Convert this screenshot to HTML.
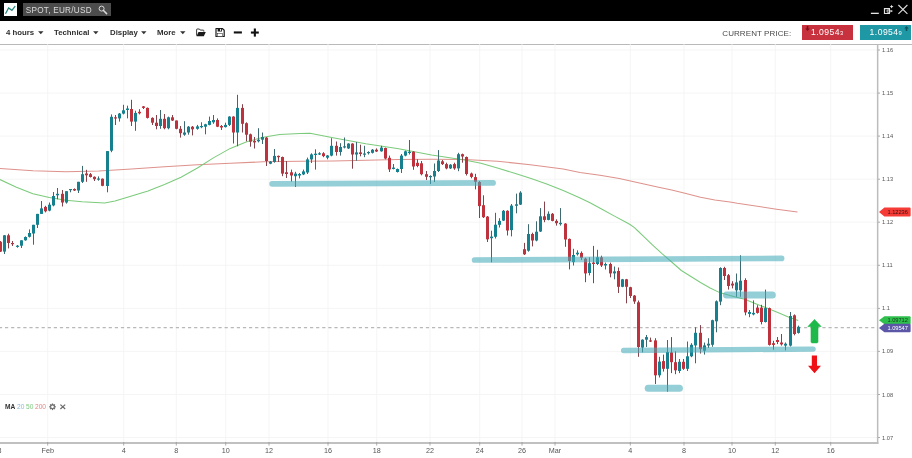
<!DOCTYPE html>
<html><head><meta charset="utf-8"><title>SPOT, EUR/USD</title>
<style>
html,body{margin:0;padding:0;background:#fff;}
body{width:912px;height:458px;overflow:hidden;position:relative;font-family:"Liberation Sans",sans-serif;}
#top{position:absolute;left:0;top:0;width:912px;height:20.5px;background:#000;}
#logo{position:absolute;left:3.8px;top:3px;width:13.1px;height:13px;background:#fdfdfd;}
#search{position:absolute;left:23px;top:3px;width:87.8px;height:13.2px;background:#4c4c4c;}
#search span{position:absolute;left:2.8px;top:2.6px;font-size:8.2px;line-height:10px;color:#dcdcdc;letter-spacing:0.25px;white-space:nowrap;}
#tb{position:absolute;left:0;top:20.5px;width:912px;height:23px;background:#fff;border-bottom:1px solid #b9b9b9;}
.mi{position:absolute;top:7.2px;font-size:7.8px;line-height:10px;font-weight:bold;color:#2e2e2e;white-space:nowrap;}
.ar{position:absolute;top:10.5px;}
#cp{position:absolute;left:722.3px;top:8.2px;font-size:8px;line-height:10px;color:#4a4a4a;letter-spacing:0.08px;white-space:nowrap;}
.pb{position:absolute;top:4.6px;height:14.8px;color:#fff;font-size:8.6px;line-height:14.6px;white-space:nowrap;letter-spacing:0.45px;}
.pb small{font-size:5.8px;letter-spacing:0;}
#chart{position:absolute;left:0;top:44px;}
#chart text{font-family:"Liberation Sans",sans-serif;}
.ax{font-size:5.7px;fill:#555;}
.axb{font-size:7.2px;fill:#555;}
.tg{font-size:5.7px;}
.lg{font-size:6.6px;}
</style></head><body>
<div id="top">
 <div id="logo"><svg style="display:block" width="13" height="13" viewBox="0 0 13 13"><path d="M1.5 10.7 L4.6 4.9 L7.9 7.3 L11.2 3.1" fill="none" stroke="#26877d" stroke-width="1.25" stroke-linejoin="miter"/></svg></div>
 <div id="search"><span>SPOT, EUR/USD</span>
  <svg style="position:absolute;left:75px;top:2.4px" width="10" height="10" viewBox="0 0 10 10"><circle cx="3.6" cy="3.6" r="2.5" fill="none" stroke="#d8d8d8" stroke-width="1"/><path d="M5.5 5.5 L8.6 8.6" stroke="#d8d8d8" stroke-width="1.5" stroke-linecap="round"/></svg>
 </div>
 <svg style="position:absolute;left:868px;top:3px" width="42" height="14" viewBox="868 3 42 14">
  <rect x="870.9" y="12.7" width="7.9" height="1.3" fill="#e4e4e4"/>
  <path d="M884.5 8.6 H889.4 V13.5 H884.5 Z" fill="none" stroke="#e0e0e0" stroke-width="1.2"/>
  <path d="M889.6 10 H887.1 V12.2 H889.6" fill="none" stroke="#e0e0e0" stroke-width="0.9"/>
  <path d="M890.4 9.7 L893 11.1 L890.4 12.5 Z" fill="#e0e0e0"/>
  <path d="M891.6 4.7 L892.2 6 L893.5 6.6 L892.2 7.2 L891.6 8.5 L891 7.2 L889.7 6.6 L891 6 Z" fill="#e8e8e8"/>
  <path d="M898.4 5 L907.4 13.9 M907.4 5 L898.4 13.9" stroke="#dcdcdc" stroke-width="1.1"/>
 </svg>
</div>
<div id="tb">
 <span class="mi" style="left:6px">4 hours</span><svg class="ar" style="left:37.9px" width="6" height="4" viewBox="0 0 6 4"><path d="M0.1 0.2 H5.5 L2.8 3.3 Z" fill="#333"/></svg>
 <span class="mi" style="left:54px">Technical</span><svg class="ar" style="left:93.2px" width="6" height="4" viewBox="0 0 6 4"><path d="M0.1 0.2 H5.5 L2.8 3.3 Z" fill="#333"/></svg>
 <span class="mi" style="left:110px">Display</span><svg class="ar" style="left:141.2px" width="6" height="4" viewBox="0 0 6 4"><path d="M0.1 0.2 H5.5 L2.8 3.3 Z" fill="#333"/></svg>
 <span class="mi" style="left:157px">More</span><svg class="ar" style="left:180.1px" width="6" height="4" viewBox="0 0 6 4"><path d="M0.1 0.2 H5.5 L2.8 3.3 Z" fill="#333"/></svg>
 <svg style="position:absolute;left:195px;top:6.5px" width="66" height="12" viewBox="195 27 66 12">
  <path d="M196.6 35.6 V29.6 Q196.6 29 197.2 29 H199.4 L200.3 30.1 H203.2 Q203.8 30.1 203.8 30.7 V31.6" fill="none" stroke="#222" stroke-width="0.9"/>
  <path d="M196.5 36.3 L198.5 31.9 H205.8 L203.8 36.3 Z" fill="#1a1a1a"/>
  <path d="M216 28.5 H222.3 L224.2 30.2 V36.5 H216 Z" fill="#fff" stroke="#1a1a1a" stroke-width="1.2" stroke-linejoin="round"/>
  <rect x="217.6" y="28.4" width="4.4" height="3.1" fill="#1a1a1a"/>
  <rect x="220.1" y="28.9" width="1" height="2" fill="#fff"/>
  <rect x="217.4" y="33.3" width="5.2" height="3.2" fill="#fff" stroke="#1a1a1a" stroke-width="0.5"/>
  <rect x="233.8" y="31.4" width="8.1" height="2.1" fill="#111"/>
  <rect x="250.9" y="31.5" width="7.9" height="2.1" fill="#111"/>
  <rect x="253.8" y="28.5" width="2.1" height="8.1" fill="#111"/>
 </svg>
 <span id="cp">CURRENT PRICE:</span>
 <div class="pb" style="left:802px;width:51px;background:#c7323e;"><span style="position:absolute;left:9px;top:0">1.0954<small>3</small></span>
  <svg style="position:absolute;left:3.2px;top:1px" width="5" height="5" viewBox="0 0 5 5"><path d="M1.7 0 H3.3 V2.4 H4.8 L2.5 5 L0.2 2.4 H1.7 Z" fill="#7d0f18"/></svg></div>
 <div class="pb" style="left:860px;width:51.2px;background:#1f98a6;"><span style="position:absolute;left:9.6px;top:0">1.0954<small>9</small></span>
  <svg style="position:absolute;left:43.6px;top:1.2px" width="5" height="5" viewBox="0 0 5 5"><path d="M1.7 5 H3.3 V2.6 H4.8 L2.5 0 L0.2 2.6 H1.7 Z" fill="#0d5660"/></svg></div>
</div>
<svg id="chart" width="912" height="414" viewBox="0 44 912 414">
<line x1="47.7" y1="44" x2="47.7" y2="443" stroke="#f2f2f2" stroke-width="0.8"/>
<line x1="123.7" y1="44" x2="123.7" y2="443" stroke="#f2f2f2" stroke-width="0.8"/>
<line x1="176.3" y1="44" x2="176.3" y2="443" stroke="#f2f2f2" stroke-width="0.8"/>
<line x1="225.7" y1="44" x2="225.7" y2="443" stroke="#f2f2f2" stroke-width="0.8"/>
<line x1="269" y1="44" x2="269" y2="443" stroke="#f2f2f2" stroke-width="0.8"/>
<line x1="328" y1="44" x2="328" y2="443" stroke="#f2f2f2" stroke-width="0.8"/>
<line x1="376.7" y1="44" x2="376.7" y2="443" stroke="#f2f2f2" stroke-width="0.8"/>
<line x1="430" y1="44" x2="430" y2="443" stroke="#f2f2f2" stroke-width="0.8"/>
<line x1="479.7" y1="44" x2="479.7" y2="443" stroke="#f2f2f2" stroke-width="0.8"/>
<line x1="522" y1="44" x2="522" y2="443" stroke="#f2f2f2" stroke-width="0.8"/>
<line x1="555" y1="44" x2="555" y2="443" stroke="#f2f2f2" stroke-width="0.8"/>
<line x1="630.3" y1="44" x2="630.3" y2="443" stroke="#f2f2f2" stroke-width="0.8"/>
<line x1="684" y1="44" x2="684" y2="443" stroke="#f2f2f2" stroke-width="0.8"/>
<line x1="732" y1="44" x2="732" y2="443" stroke="#f2f2f2" stroke-width="0.8"/>
<line x1="775.3" y1="44" x2="775.3" y2="443" stroke="#f2f2f2" stroke-width="0.8"/>
<line x1="830.7" y1="44" x2="830.7" y2="443" stroke="#f2f2f2" stroke-width="0.8"/>
<line x1="0" y1="50.0" x2="877" y2="50.0" stroke="#f2f2f2" stroke-width="0.8"/>
<line x1="0" y1="93.1" x2="877" y2="93.1" stroke="#f2f2f2" stroke-width="0.8"/>
<line x1="0" y1="136.1" x2="877" y2="136.1" stroke="#f2f2f2" stroke-width="0.8"/>
<line x1="0" y1="179.2" x2="877" y2="179.2" stroke="#f2f2f2" stroke-width="0.8"/>
<line x1="0" y1="222.2" x2="877" y2="222.2" stroke="#f2f2f2" stroke-width="0.8"/>
<line x1="0" y1="265.3" x2="877" y2="265.3" stroke="#f2f2f2" stroke-width="0.8"/>
<line x1="0" y1="308.4" x2="877" y2="308.4" stroke="#f2f2f2" stroke-width="0.8"/>
<line x1="0" y1="351.4" x2="877" y2="351.4" stroke="#f2f2f2" stroke-width="0.8"/>
<line x1="0" y1="394.5" x2="877" y2="394.5" stroke="#f2f2f2" stroke-width="0.8"/>
<line x1="0" y1="437.5" x2="877" y2="437.5" stroke="#f2f2f2" stroke-width="0.8"/>
<line x1="0" y1="327.6" x2="877" y2="327.6" stroke="#b8b8b8" stroke-width="1.1" stroke-dasharray="3.2 2.9" stroke-dashoffset="1.1"/>
<polyline points="0.0,168.4 33.0,170.7 65.8,171.7 98.7,171.0 131.6,169.0 164.5,166.8 197.4,164.8 230.3,163.2 263.2,161.8 300.0,161.2 333.0,160.9 365.8,160.2 398.7,159.5 431.6,159.2 464.5,159.5 497.4,161.2 530.3,164.8 563.2,169.0 580.0,172.6 600.0,175.3 619.3,178.5 658.6,187.3 671.7,190.0 686.0,193.6 700.5,197.2 714.9,200.1 730.0,202.0 737.3,203.3 776.6,209.2 797.5,211.9" fill="none" stroke="#de928c" stroke-width="1.05" stroke-linejoin="round"/>
<polyline points="0.0,179.6 16.4,187.2 32.9,193.8 49.3,197.5 65.8,200.3 82.2,201.8 104.6,203.0 115.0,201.0 131.6,196.0 148.0,191.0 164.5,184.5 181.0,177.3 197.4,168.0 213.8,157.6 230.3,148.4 246.7,141.8 263.2,137.2 279.6,134.4 300.0,133.6 310.0,133.2 333.0,137.8 365.8,143.8 398.7,148.7 431.6,155.0 464.5,159.9 481.0,163.2 497.4,168.0 513.8,173.0 530.3,178.3 546.7,183.9 563.2,190.5 579.6,197.7 590.0,202.8 602.0,209.2 614.0,215.9 626.0,222.3 630.0,224.5 634.4,227.7 638.5,231.5 642.8,235.7 652.4,244.8 662.0,253.6 671.7,262.0 681.3,270.5 690.9,276.5 700.5,282.5 710.1,288.0 719.7,292.6 730.0,295.6 737.3,297.4 744.6,299.2 757.0,304.2 768.6,308.8 776.6,312.1 788.4,317.0 798.2,320.4" fill="none" stroke="#7ccb7c" stroke-width="1.05" stroke-linejoin="round"/>
<line x1="0.50" y1="241.0" x2="0.50" y2="252.0" stroke="#84434a" stroke-width="1"/>
<rect x="-1.00" y="241.8" width="3" height="9.8" fill="#bd323c"/>
<line x1="4.50" y1="235.0" x2="4.50" y2="254.0" stroke="#3d6971" stroke-width="1"/>
<rect x="3.00" y="235.3" width="3" height="16.3" fill="#17808e"/>
<line x1="8.50" y1="233.7" x2="8.50" y2="248.4" stroke="#84434a" stroke-width="1"/>
<rect x="7.00" y="235.3" width="3" height="7.7" fill="#bd323c"/>
<line x1="12.50" y1="241.0" x2="12.50" y2="246.0" stroke="#84434a" stroke-width="1"/>
<rect x="11.00" y="243.0" width="3" height="1.2" fill="#bd323c"/>
<line x1="17.50" y1="245.0" x2="17.50" y2="247.7" stroke="#3d6971" stroke-width="1"/>
<rect x="16.00" y="245.7" width="3" height="1.2" fill="#17808e"/>
<line x1="21.50" y1="240.3" x2="21.50" y2="248.0" stroke="#3d6971" stroke-width="1"/>
<rect x="20.00" y="240.3" width="3" height="5.4" fill="#17808e"/>
<line x1="25.50" y1="236.4" x2="25.50" y2="240.7" stroke="#3d6971" stroke-width="1"/>
<rect x="24.00" y="237.0" width="3" height="3.3" fill="#17808e"/>
<line x1="29.50" y1="229.4" x2="29.50" y2="237.5" stroke="#3d6971" stroke-width="1"/>
<rect x="28.00" y="233.0" width="3" height="3.8" fill="#17808e"/>
<line x1="33.50" y1="224.8" x2="33.50" y2="244.7" stroke="#3d6971" stroke-width="1"/>
<rect x="32.00" y="224.8" width="3" height="8.7" fill="#17808e"/>
<line x1="37.50" y1="213.9" x2="37.50" y2="228.0" stroke="#3d6971" stroke-width="1"/>
<rect x="36.00" y="213.9" width="3" height="10.9" fill="#17808e"/>
<line x1="41.50" y1="201.0" x2="41.50" y2="213.9" stroke="#3d6971" stroke-width="1"/>
<rect x="40.00" y="208.4" width="3" height="5.5" fill="#17808e"/>
<line x1="45.50" y1="205.8" x2="45.50" y2="212.4" stroke="#84434a" stroke-width="1"/>
<rect x="44.00" y="206.9" width="3" height="4.4" fill="#bd323c"/>
<line x1="49.50" y1="202.5" x2="49.50" y2="211.3" stroke="#3d6971" stroke-width="1"/>
<rect x="48.00" y="204.7" width="3" height="5.9" fill="#17808e"/>
<line x1="53.50" y1="192.0" x2="53.50" y2="206.3" stroke="#3d6971" stroke-width="1"/>
<rect x="52.00" y="196.0" width="3" height="9.4" fill="#17808e"/>
<line x1="57.50" y1="188.0" x2="57.50" y2="199.3" stroke="#3d6971" stroke-width="1"/>
<rect x="56.00" y="193.8" width="3" height="1.5" fill="#17808e"/>
<line x1="62.50" y1="190.0" x2="62.50" y2="206.5" stroke="#84434a" stroke-width="1"/>
<rect x="61.00" y="193.8" width="3" height="8.7" fill="#bd323c"/>
<line x1="66.50" y1="191.2" x2="66.50" y2="203.6" stroke="#3d6971" stroke-width="1"/>
<rect x="65.00" y="191.2" width="3" height="11.3" fill="#17808e"/>
<line x1="70.50" y1="189.0" x2="70.50" y2="192.3" stroke="#3d6971" stroke-width="1"/>
<rect x="69.00" y="189.0" width="3" height="1.2" fill="#17808e"/>
<line x1="74.50" y1="188.4" x2="74.50" y2="191.0" stroke="#84434a" stroke-width="1"/>
<rect x="73.00" y="189.0" width="3" height="1.5" fill="#bd323c"/>
<line x1="78.50" y1="181.8" x2="78.50" y2="193.0" stroke="#3d6971" stroke-width="1"/>
<rect x="77.00" y="181.8" width="3" height="8.7" fill="#17808e"/>
<line x1="82.50" y1="165.9" x2="82.50" y2="183.0" stroke="#3d6971" stroke-width="1"/>
<rect x="81.00" y="174.2" width="3" height="7.6" fill="#17808e"/>
<line x1="86.50" y1="169.8" x2="86.50" y2="181.8" stroke="#84434a" stroke-width="1"/>
<rect x="85.00" y="173.5" width="3" height="1.8" fill="#bd323c"/>
<line x1="90.50" y1="173.0" x2="90.50" y2="177.5" stroke="#84434a" stroke-width="1"/>
<rect x="89.00" y="174.2" width="3" height="2.8" fill="#bd323c"/>
<line x1="94.50" y1="176.4" x2="94.50" y2="181.0" stroke="#84434a" stroke-width="1"/>
<rect x="93.00" y="176.8" width="3" height="2.4" fill="#bd323c"/>
<line x1="98.50" y1="176.4" x2="98.50" y2="180.7" stroke="#3d6971" stroke-width="1"/>
<rect x="97.00" y="178.5" width="3" height="1.2" fill="#17808e"/>
<line x1="102.50" y1="178.5" x2="102.50" y2="186.2" stroke="#84434a" stroke-width="1"/>
<rect x="101.00" y="178.7" width="3" height="7.1" fill="#bd323c"/>
<line x1="107.50" y1="151.1" x2="107.50" y2="192.3" stroke="#3d6971" stroke-width="1"/>
<rect x="106.00" y="151.1" width="3" height="34.9" fill="#17808e"/>
<line x1="111.50" y1="114.4" x2="111.50" y2="152.2" stroke="#3d6971" stroke-width="1"/>
<rect x="110.00" y="116.8" width="3" height="33.9" fill="#17808e"/>
<line x1="115.50" y1="115.0" x2="115.50" y2="125.0" stroke="#84434a" stroke-width="1"/>
<rect x="114.00" y="117.3" width="3" height="1.2" fill="#bd323c"/>
<line x1="119.50" y1="113.0" x2="119.50" y2="121.6" stroke="#3d6971" stroke-width="1"/>
<rect x="118.00" y="113.6" width="3" height="4.8" fill="#17808e"/>
<line x1="123.50" y1="104.8" x2="123.50" y2="114.4" stroke="#3d6971" stroke-width="1"/>
<rect x="122.00" y="110.3" width="3" height="3.3" fill="#17808e"/>
<line x1="127.50" y1="105.7" x2="127.50" y2="118.4" stroke="#3d6971" stroke-width="1"/>
<rect x="126.00" y="108.5" width="3" height="1.5" fill="#17808e"/>
<line x1="131.50" y1="99.8" x2="131.50" y2="126.0" stroke="#84434a" stroke-width="1"/>
<rect x="130.00" y="109.0" width="3" height="12.6" fill="#bd323c"/>
<line x1="135.50" y1="110.7" x2="135.50" y2="130.8" stroke="#3d6971" stroke-width="1"/>
<rect x="134.00" y="112.9" width="3" height="8.7" fill="#17808e"/>
<line x1="139.50" y1="109.2" x2="139.50" y2="114.4" stroke="#84434a" stroke-width="1"/>
<rect x="138.00" y="111.8" width="3" height="1.5" fill="#bd323c"/>
<line x1="143.50" y1="106.0" x2="143.50" y2="109.0" stroke="#84434a" stroke-width="1"/>
<rect x="142.00" y="106.4" width="3" height="1.5" fill="#bd323c"/>
<line x1="147.50" y1="107.5" x2="147.50" y2="118.5" stroke="#84434a" stroke-width="1"/>
<rect x="146.00" y="107.9" width="3" height="10.0" fill="#bd323c"/>
<line x1="152.50" y1="117.3" x2="152.50" y2="125.0" stroke="#84434a" stroke-width="1"/>
<rect x="151.00" y="117.9" width="3" height="4.8" fill="#bd323c"/>
<line x1="156.50" y1="115.0" x2="156.50" y2="129.3" stroke="#84434a" stroke-width="1"/>
<rect x="155.00" y="122.7" width="3" height="3.3" fill="#bd323c"/>
<line x1="160.50" y1="110.0" x2="160.50" y2="128.8" stroke="#3d6971" stroke-width="1"/>
<rect x="159.00" y="118.8" width="3" height="7.2" fill="#17808e"/>
<line x1="164.50" y1="114.0" x2="164.50" y2="129.3" stroke="#84434a" stroke-width="1"/>
<rect x="163.00" y="118.8" width="3" height="9.4" fill="#bd323c"/>
<line x1="168.50" y1="116.6" x2="168.50" y2="129.3" stroke="#3d6971" stroke-width="1"/>
<rect x="167.00" y="117.3" width="3" height="10.9" fill="#17808e"/>
<line x1="172.50" y1="115.0" x2="172.50" y2="121.0" stroke="#84434a" stroke-width="1"/>
<rect x="171.00" y="117.3" width="3" height="3.2" fill="#bd323c"/>
<line x1="176.50" y1="120.5" x2="176.50" y2="129.3" stroke="#84434a" stroke-width="1"/>
<rect x="175.00" y="120.5" width="3" height="8.3" fill="#bd323c"/>
<line x1="180.50" y1="126.0" x2="180.50" y2="137.6" stroke="#84434a" stroke-width="1"/>
<rect x="179.00" y="128.8" width="3" height="4.4" fill="#bd323c"/>
<line x1="184.50" y1="121.2" x2="184.50" y2="135.8" stroke="#3d6971" stroke-width="1"/>
<rect x="183.00" y="132.5" width="3" height="2.2" fill="#17808e"/>
<line x1="188.50" y1="126.0" x2="188.50" y2="134.7" stroke="#3d6971" stroke-width="1"/>
<rect x="187.00" y="126.7" width="3" height="5.8" fill="#17808e"/>
<line x1="192.50" y1="126.0" x2="192.50" y2="135.4" stroke="#84434a" stroke-width="1"/>
<rect x="191.00" y="126.7" width="3" height="2.6" fill="#bd323c"/>
<line x1="197.50" y1="124.9" x2="197.50" y2="129.7" stroke="#3d6971" stroke-width="1"/>
<rect x="196.00" y="126.4" width="3" height="2.4" fill="#17808e"/>
<line x1="201.50" y1="122.3" x2="201.50" y2="128.2" stroke="#3d6971" stroke-width="1"/>
<rect x="200.00" y="126.0" width="3" height="1.2" fill="#17808e"/>
<line x1="205.50" y1="123.8" x2="205.50" y2="134.3" stroke="#3d6971" stroke-width="1"/>
<rect x="204.00" y="124.3" width="3" height="2.4" fill="#17808e"/>
<line x1="209.50" y1="116.6" x2="209.50" y2="125.3" stroke="#3d6971" stroke-width="1"/>
<rect x="208.00" y="121.0" width="3" height="3.9" fill="#17808e"/>
<line x1="213.50" y1="115.0" x2="213.50" y2="123.8" stroke="#3d6971" stroke-width="1"/>
<rect x="212.00" y="120.0" width="3" height="2.3" fill="#17808e"/>
<line x1="217.50" y1="118.4" x2="217.50" y2="127.1" stroke="#84434a" stroke-width="1"/>
<rect x="216.00" y="120.0" width="3" height="6.7" fill="#bd323c"/>
<line x1="221.50" y1="125.0" x2="221.50" y2="130.0" stroke="#84434a" stroke-width="1"/>
<rect x="220.00" y="126.0" width="3" height="1.5" fill="#bd323c"/>
<line x1="225.50" y1="122.7" x2="225.50" y2="127.5" stroke="#3d6971" stroke-width="1"/>
<rect x="224.00" y="124.9" width="3" height="2.2" fill="#17808e"/>
<line x1="229.50" y1="116.2" x2="229.50" y2="126.0" stroke="#3d6971" stroke-width="1"/>
<rect x="228.00" y="116.6" width="3" height="8.3" fill="#17808e"/>
<line x1="233.50" y1="116.2" x2="233.50" y2="143.5" stroke="#84434a" stroke-width="1"/>
<rect x="232.00" y="116.6" width="3" height="15.9" fill="#bd323c"/>
<line x1="237.50" y1="94.8" x2="237.50" y2="146.3" stroke="#3d6971" stroke-width="1"/>
<rect x="236.00" y="107.9" width="3" height="24.6" fill="#17808e"/>
<line x1="242.50" y1="104.2" x2="242.50" y2="132.5" stroke="#84434a" stroke-width="1"/>
<rect x="241.00" y="107.9" width="3" height="15.9" fill="#bd323c"/>
<line x1="246.50" y1="122.3" x2="246.50" y2="141.3" stroke="#84434a" stroke-width="1"/>
<rect x="245.00" y="123.2" width="3" height="11.5" fill="#bd323c"/>
<line x1="250.50" y1="133.6" x2="250.50" y2="146.7" stroke="#84434a" stroke-width="1"/>
<rect x="249.00" y="134.3" width="3" height="7.4" fill="#bd323c"/>
<line x1="254.50" y1="137.0" x2="254.50" y2="148.5" stroke="#84434a" stroke-width="1"/>
<rect x="253.00" y="140.8" width="3" height="1.6" fill="#bd323c"/>
<line x1="258.50" y1="128.2" x2="258.50" y2="142.4" stroke="#3d6971" stroke-width="1"/>
<rect x="257.00" y="139.7" width="3" height="1.6" fill="#17808e"/>
<line x1="262.50" y1="132.5" x2="262.50" y2="144.0" stroke="#3d6971" stroke-width="1"/>
<rect x="261.00" y="137.0" width="3" height="2.7" fill="#17808e"/>
<line x1="266.50" y1="137.0" x2="266.50" y2="166.0" stroke="#84434a" stroke-width="1"/>
<rect x="265.00" y="137.6" width="3" height="23.4" fill="#bd323c"/>
<line x1="270.50" y1="161.0" x2="270.50" y2="164.2" stroke="#3d6971" stroke-width="1"/>
<rect x="269.00" y="161.6" width="3" height="2.1" fill="#17808e"/>
<line x1="274.50" y1="149.0" x2="274.50" y2="162.7" stroke="#3d6971" stroke-width="1"/>
<rect x="273.00" y="155.9" width="3" height="6.1" fill="#17808e"/>
<line x1="278.50" y1="155.5" x2="278.50" y2="162.0" stroke="#84434a" stroke-width="1"/>
<rect x="277.00" y="155.9" width="3" height="1.3" fill="#bd323c"/>
<line x1="282.50" y1="156.6" x2="282.50" y2="176.2" stroke="#84434a" stroke-width="1"/>
<rect x="281.00" y="157.0" width="3" height="16.6" fill="#bd323c"/>
<line x1="286.50" y1="161.0" x2="286.50" y2="178.0" stroke="#84434a" stroke-width="1"/>
<rect x="285.00" y="172.3" width="3" height="1.7" fill="#bd323c"/>
<line x1="291.50" y1="169.6" x2="291.50" y2="181.6" stroke="#84434a" stroke-width="1"/>
<rect x="290.00" y="172.3" width="3" height="3.2" fill="#bd323c"/>
<line x1="295.50" y1="171.8" x2="295.50" y2="187.0" stroke="#3d6971" stroke-width="1"/>
<rect x="294.00" y="173.6" width="3" height="2.6" fill="#17808e"/>
<line x1="299.50" y1="173.0" x2="299.50" y2="178.4" stroke="#3d6971" stroke-width="1"/>
<rect x="298.00" y="174.0" width="3" height="1.5" fill="#17808e"/>
<line x1="303.50" y1="169.6" x2="303.50" y2="175.1" stroke="#3d6971" stroke-width="1"/>
<rect x="302.00" y="171.4" width="3" height="3.0" fill="#17808e"/>
<line x1="307.50" y1="157.6" x2="307.50" y2="174.0" stroke="#3d6971" stroke-width="1"/>
<rect x="306.00" y="159.4" width="3" height="13.1" fill="#17808e"/>
<line x1="311.50" y1="153.3" x2="311.50" y2="163.0" stroke="#3d6971" stroke-width="1"/>
<rect x="310.00" y="154.4" width="3" height="5.0" fill="#17808e"/>
<line x1="315.50" y1="149.3" x2="315.50" y2="169.6" stroke="#3d6971" stroke-width="1"/>
<rect x="314.00" y="153.7" width="3" height="1.3" fill="#17808e"/>
<line x1="319.50" y1="152.2" x2="319.50" y2="155.0" stroke="#3d6971" stroke-width="1"/>
<rect x="318.00" y="153.3" width="3" height="1.2" fill="#17808e"/>
<line x1="323.50" y1="152.2" x2="323.50" y2="157.2" stroke="#84434a" stroke-width="1"/>
<rect x="322.00" y="153.3" width="3" height="2.8" fill="#bd323c"/>
<line x1="327.50" y1="155.0" x2="327.50" y2="159.3" stroke="#3d6971" stroke-width="1"/>
<rect x="326.00" y="155.5" width="3" height="2.2" fill="#17808e"/>
<line x1="331.50" y1="138.2" x2="331.50" y2="156.3" stroke="#3d6971" stroke-width="1"/>
<rect x="330.00" y="145.8" width="3" height="9.8" fill="#17808e"/>
<line x1="336.50" y1="141.5" x2="336.50" y2="155.6" stroke="#84434a" stroke-width="1"/>
<rect x="335.00" y="145.8" width="3" height="6.2" fill="#bd323c"/>
<line x1="340.50" y1="143.2" x2="340.50" y2="155.6" stroke="#3d6971" stroke-width="1"/>
<rect x="339.00" y="147.0" width="3" height="5.0" fill="#17808e"/>
<line x1="344.50" y1="137.5" x2="344.50" y2="148.4" stroke="#3d6971" stroke-width="1"/>
<rect x="343.00" y="146.3" width="3" height="1.2" fill="#17808e"/>
<line x1="348.50" y1="143.2" x2="348.50" y2="149.0" stroke="#3d6971" stroke-width="1"/>
<rect x="347.00" y="143.6" width="3" height="4.8" fill="#17808e"/>
<line x1="352.50" y1="143.2" x2="352.50" y2="168.7" stroke="#84434a" stroke-width="1"/>
<rect x="351.00" y="143.6" width="3" height="10.9" fill="#bd323c"/>
<line x1="356.50" y1="142.0" x2="356.50" y2="160.7" stroke="#3d6971" stroke-width="1"/>
<rect x="355.00" y="152.4" width="3" height="2.1" fill="#17808e"/>
<line x1="360.50" y1="144.7" x2="360.50" y2="156.3" stroke="#84434a" stroke-width="1"/>
<rect x="359.00" y="152.4" width="3" height="1.6" fill="#bd323c"/>
<line x1="364.50" y1="145.8" x2="364.50" y2="157.2" stroke="#3d6971" stroke-width="1"/>
<rect x="363.00" y="153.5" width="3" height="1.2" fill="#17808e"/>
<line x1="368.50" y1="151.3" x2="368.50" y2="154.5" stroke="#3d6971" stroke-width="1"/>
<rect x="367.00" y="152.0" width="3" height="1.2" fill="#17808e"/>
<line x1="372.50" y1="149.0" x2="372.50" y2="153.5" stroke="#3d6971" stroke-width="1"/>
<rect x="371.00" y="149.7" width="3" height="3.1" fill="#17808e"/>
<line x1="376.50" y1="148.4" x2="376.50" y2="152.0" stroke="#84434a" stroke-width="1"/>
<rect x="375.00" y="149.7" width="3" height="1.8" fill="#bd323c"/>
<line x1="381.50" y1="145.8" x2="381.50" y2="151.7" stroke="#3d6971" stroke-width="1"/>
<rect x="380.00" y="147.6" width="3" height="3.7" fill="#17808e"/>
<line x1="385.50" y1="147.6" x2="385.50" y2="159.3" stroke="#84434a" stroke-width="1"/>
<rect x="384.00" y="148.0" width="3" height="10.5" fill="#bd323c"/>
<line x1="389.50" y1="155.6" x2="389.50" y2="172.0" stroke="#84434a" stroke-width="1"/>
<rect x="388.00" y="157.8" width="3" height="11.6" fill="#bd323c"/>
<line x1="393.50" y1="164.0" x2="393.50" y2="169.4" stroke="#3d6971" stroke-width="1"/>
<rect x="392.00" y="167.6" width="3" height="1.4" fill="#17808e"/>
<line x1="397.50" y1="168.5" x2="397.50" y2="172.5" stroke="#3d6971" stroke-width="1"/>
<rect x="396.00" y="169.0" width="3" height="3.0" fill="#17808e"/>
<line x1="401.50" y1="154.0" x2="401.50" y2="173.0" stroke="#3d6971" stroke-width="1"/>
<rect x="400.00" y="155.6" width="3" height="13.4" fill="#17808e"/>
<line x1="405.50" y1="150.6" x2="405.50" y2="156.3" stroke="#3d6971" stroke-width="1"/>
<rect x="404.00" y="151.3" width="3" height="4.3" fill="#17808e"/>
<line x1="409.50" y1="140.0" x2="409.50" y2="154.5" stroke="#3d6971" stroke-width="1"/>
<rect x="408.00" y="151.7" width="3" height="1.3" fill="#17808e"/>
<line x1="413.50" y1="151.3" x2="413.50" y2="169.8" stroke="#84434a" stroke-width="1"/>
<rect x="412.00" y="151.7" width="3" height="14.8" fill="#bd323c"/>
<line x1="417.50" y1="159.3" x2="417.50" y2="167.2" stroke="#84434a" stroke-width="1"/>
<rect x="416.00" y="162.8" width="3" height="3.2" fill="#bd323c"/>
<line x1="421.50" y1="161.0" x2="421.50" y2="175.3" stroke="#84434a" stroke-width="1"/>
<rect x="420.00" y="163.3" width="3" height="10.9" fill="#bd323c"/>
<line x1="426.50" y1="171.0" x2="426.50" y2="180.0" stroke="#84434a" stroke-width="1"/>
<rect x="425.00" y="174.2" width="3" height="2.6" fill="#bd323c"/>
<line x1="430.50" y1="175.3" x2="430.50" y2="184.0" stroke="#3d6971" stroke-width="1"/>
<rect x="429.00" y="176.0" width="3" height="1.2" fill="#17808e"/>
<line x1="434.50" y1="163.5" x2="434.50" y2="182.0" stroke="#3d6971" stroke-width="1"/>
<rect x="433.00" y="171.0" width="3" height="5.5" fill="#17808e"/>
<line x1="438.50" y1="150.1" x2="438.50" y2="172.0" stroke="#3d6971" stroke-width="1"/>
<rect x="437.00" y="160.5" width="3" height="10.5" fill="#17808e"/>
<line x1="442.50" y1="160.0" x2="442.50" y2="165.0" stroke="#84434a" stroke-width="1"/>
<rect x="441.00" y="161.3" width="3" height="2.8" fill="#bd323c"/>
<line x1="446.50" y1="162.7" x2="446.50" y2="169.3" stroke="#84434a" stroke-width="1"/>
<rect x="445.00" y="164.1" width="3" height="4.3" fill="#bd323c"/>
<line x1="450.50" y1="164.1" x2="450.50" y2="169.0" stroke="#3d6971" stroke-width="1"/>
<rect x="449.00" y="164.7" width="3" height="3.7" fill="#17808e"/>
<line x1="454.50" y1="162.7" x2="454.50" y2="169.8" stroke="#84434a" stroke-width="1"/>
<rect x="453.00" y="164.1" width="3" height="4.3" fill="#bd323c"/>
<line x1="458.50" y1="152.8" x2="458.50" y2="171.2" stroke="#3d6971" stroke-width="1"/>
<rect x="457.00" y="154.2" width="3" height="14.2" fill="#17808e"/>
<line x1="462.50" y1="153.6" x2="462.50" y2="162.7" stroke="#84434a" stroke-width="1"/>
<rect x="461.00" y="154.2" width="3" height="2.3" fill="#bd323c"/>
<line x1="466.50" y1="156.5" x2="466.50" y2="175.5" stroke="#84434a" stroke-width="1"/>
<rect x="465.00" y="157.0" width="3" height="17.0" fill="#bd323c"/>
<line x1="471.50" y1="172.6" x2="471.50" y2="178.3" stroke="#84434a" stroke-width="1"/>
<rect x="470.00" y="173.5" width="3" height="3.4" fill="#bd323c"/>
<line x1="475.50" y1="173.8" x2="475.50" y2="189.4" stroke="#84434a" stroke-width="1"/>
<rect x="474.00" y="177.1" width="3" height="4.7" fill="#bd323c"/>
<line x1="479.50" y1="181.1" x2="479.50" y2="218.0" stroke="#84434a" stroke-width="1"/>
<rect x="478.00" y="182.0" width="3" height="24.1" fill="#bd323c"/>
<line x1="483.50" y1="195.3" x2="483.50" y2="218.0" stroke="#84434a" stroke-width="1"/>
<rect x="482.00" y="205.2" width="3" height="12.0" fill="#bd323c"/>
<line x1="487.50" y1="216.0" x2="487.50" y2="242.0" stroke="#84434a" stroke-width="1"/>
<rect x="486.00" y="216.6" width="3" height="22.7" fill="#bd323c"/>
<line x1="491.50" y1="230.7" x2="491.50" y2="262.3" stroke="#3d6971" stroke-width="1"/>
<rect x="490.00" y="236.6" width="3" height="1.6" fill="#17808e"/>
<line x1="495.50" y1="212.8" x2="495.50" y2="238.5" stroke="#3d6971" stroke-width="1"/>
<rect x="494.00" y="224.7" width="3" height="12.1" fill="#17808e"/>
<line x1="499.50" y1="218.2" x2="499.50" y2="227.5" stroke="#3d6971" stroke-width="1"/>
<rect x="498.00" y="220.9" width="3" height="3.9" fill="#17808e"/>
<line x1="503.50" y1="210.0" x2="503.50" y2="221.0" stroke="#3d6971" stroke-width="1"/>
<rect x="502.00" y="210.8" width="3" height="9.8" fill="#17808e"/>
<line x1="507.50" y1="210.3" x2="507.50" y2="235.5" stroke="#84434a" stroke-width="1"/>
<rect x="506.00" y="210.8" width="3" height="19.7" fill="#bd323c"/>
<line x1="511.50" y1="204.0" x2="511.50" y2="236.4" stroke="#3d6971" stroke-width="1"/>
<rect x="510.00" y="205.6" width="3" height="24.5" fill="#17808e"/>
<line x1="516.50" y1="193.6" x2="516.50" y2="213.3" stroke="#3d6971" stroke-width="1"/>
<rect x="515.00" y="204.3" width="3" height="1.5" fill="#17808e"/>
<line x1="520.50" y1="191.2" x2="520.50" y2="205.0" stroke="#3d6971" stroke-width="1"/>
<rect x="519.00" y="192.6" width="3" height="12.0" fill="#17808e"/>
<line x1="524.50" y1="242.9" x2="524.50" y2="255.0" stroke="#84434a" stroke-width="1"/>
<rect x="523.00" y="249.2" width="3" height="5.1" fill="#bd323c"/>
<line x1="528.50" y1="224.2" x2="528.50" y2="251.7" stroke="#3d6971" stroke-width="1"/>
<rect x="527.00" y="234.0" width="3" height="16.7" fill="#17808e"/>
<line x1="532.50" y1="232.7" x2="532.50" y2="246.4" stroke="#84434a" stroke-width="1"/>
<rect x="531.00" y="234.0" width="3" height="6.5" fill="#bd323c"/>
<line x1="536.50" y1="221.3" x2="536.50" y2="241.3" stroke="#3d6971" stroke-width="1"/>
<rect x="535.00" y="231.7" width="3" height="8.8" fill="#17808e"/>
<line x1="540.50" y1="208.1" x2="540.50" y2="232.0" stroke="#3d6971" stroke-width="1"/>
<rect x="539.00" y="216.3" width="3" height="15.2" fill="#17808e"/>
<line x1="544.50" y1="201.6" x2="544.50" y2="222.2" stroke="#84434a" stroke-width="1"/>
<rect x="543.00" y="216.3" width="3" height="3.6" fill="#bd323c"/>
<line x1="548.50" y1="211.4" x2="548.50" y2="220.3" stroke="#3d6971" stroke-width="1"/>
<rect x="547.00" y="213.8" width="3" height="6.1" fill="#17808e"/>
<line x1="552.50" y1="213.0" x2="552.50" y2="221.3" stroke="#84434a" stroke-width="1"/>
<rect x="551.00" y="213.8" width="3" height="7.1" fill="#bd323c"/>
<line x1="556.50" y1="219.3" x2="556.50" y2="225.6" stroke="#84434a" stroke-width="1"/>
<rect x="555.00" y="220.9" width="3" height="2.3" fill="#bd323c"/>
<line x1="560.50" y1="208.1" x2="560.50" y2="225.6" stroke="#3d6971" stroke-width="1"/>
<rect x="559.00" y="222.8" width="3" height="1.4" fill="#17808e"/>
<line x1="565.50" y1="223.2" x2="565.50" y2="246.8" stroke="#84434a" stroke-width="1"/>
<rect x="564.00" y="223.6" width="3" height="15.9" fill="#bd323c"/>
<line x1="569.50" y1="238.5" x2="569.50" y2="269.4" stroke="#84434a" stroke-width="1"/>
<rect x="568.00" y="238.9" width="3" height="22.1" fill="#bd323c"/>
<line x1="573.50" y1="248.8" x2="573.50" y2="265.5" stroke="#3d6971" stroke-width="1"/>
<rect x="572.00" y="255.0" width="3" height="7.1" fill="#17808e"/>
<line x1="577.50" y1="250.3" x2="577.50" y2="255.6" stroke="#3d6971" stroke-width="1"/>
<rect x="576.00" y="252.7" width="3" height="1.6" fill="#17808e"/>
<line x1="581.50" y1="251.4" x2="581.50" y2="260.0" stroke="#84434a" stroke-width="1"/>
<rect x="580.00" y="252.9" width="3" height="4.9" fill="#bd323c"/>
<line x1="585.50" y1="257.7" x2="585.50" y2="282.2" stroke="#84434a" stroke-width="1"/>
<rect x="584.00" y="258.7" width="3" height="14.7" fill="#bd323c"/>
<line x1="589.50" y1="257.3" x2="589.50" y2="275.4" stroke="#3d6971" stroke-width="1"/>
<rect x="588.00" y="263.2" width="3" height="9.8" fill="#17808e"/>
<line x1="593.50" y1="245.9" x2="593.50" y2="283.2" stroke="#84434a" stroke-width="1"/>
<rect x="592.00" y="262.6" width="3" height="1.4" fill="#bd323c"/>
<line x1="597.50" y1="249.8" x2="597.50" y2="265.0" stroke="#3d6971" stroke-width="1"/>
<rect x="596.00" y="257.3" width="3" height="6.7" fill="#17808e"/>
<line x1="601.50" y1="255.7" x2="601.50" y2="267.0" stroke="#84434a" stroke-width="1"/>
<rect x="600.00" y="257.3" width="3" height="8.2" fill="#bd323c"/>
<line x1="605.50" y1="262.6" x2="605.50" y2="269.5" stroke="#3d6971" stroke-width="1"/>
<rect x="604.00" y="264.0" width="3" height="1.5" fill="#17808e"/>
<line x1="610.50" y1="262.6" x2="610.50" y2="277.3" stroke="#84434a" stroke-width="1"/>
<rect x="609.00" y="264.0" width="3" height="9.4" fill="#bd323c"/>
<line x1="614.50" y1="266.5" x2="614.50" y2="279.3" stroke="#3d6971" stroke-width="1"/>
<rect x="613.00" y="271.4" width="3" height="2.0" fill="#17808e"/>
<line x1="618.50" y1="267.5" x2="618.50" y2="293.0" stroke="#84434a" stroke-width="1"/>
<rect x="617.00" y="271.0" width="3" height="15.8" fill="#bd323c"/>
<line x1="622.50" y1="278.9" x2="622.50" y2="287.2" stroke="#3d6971" stroke-width="1"/>
<rect x="621.00" y="279.3" width="3" height="7.5" fill="#17808e"/>
<line x1="626.50" y1="278.9" x2="626.50" y2="303.3" stroke="#84434a" stroke-width="1"/>
<rect x="625.00" y="279.3" width="3" height="7.5" fill="#bd323c"/>
<line x1="630.50" y1="286.8" x2="630.50" y2="298.0" stroke="#84434a" stroke-width="1"/>
<rect x="629.00" y="287.2" width="3" height="8.8" fill="#bd323c"/>
<line x1="634.50" y1="295.0" x2="634.50" y2="303.9" stroke="#84434a" stroke-width="1"/>
<rect x="633.00" y="295.6" width="3" height="5.9" fill="#bd323c"/>
<line x1="638.50" y1="300.5" x2="638.50" y2="356.8" stroke="#84434a" stroke-width="1"/>
<rect x="637.00" y="302.3" width="3" height="44.7" fill="#bd323c"/>
<line x1="642.50" y1="339.3" x2="642.50" y2="352.4" stroke="#3d6971" stroke-width="1"/>
<rect x="641.00" y="339.7" width="3" height="7.9" fill="#17808e"/>
<line x1="646.50" y1="335.0" x2="646.50" y2="347.0" stroke="#3d6971" stroke-width="1"/>
<rect x="645.00" y="337.1" width="3" height="2.6" fill="#17808e"/>
<line x1="650.50" y1="337.6" x2="650.50" y2="342.0" stroke="#84434a" stroke-width="1"/>
<rect x="649.00" y="340.4" width="3" height="1.2" fill="#bd323c"/>
<line x1="655.50" y1="338.2" x2="655.50" y2="384.0" stroke="#84434a" stroke-width="1"/>
<rect x="654.00" y="340.4" width="3" height="34.9" fill="#bd323c"/>
<line x1="659.50" y1="356.8" x2="659.50" y2="377.5" stroke="#3d6971" stroke-width="1"/>
<rect x="658.00" y="361.6" width="3" height="13.7" fill="#17808e"/>
<line x1="663.50" y1="354.6" x2="663.50" y2="371.6" stroke="#84434a" stroke-width="1"/>
<rect x="662.00" y="361.1" width="3" height="7.7" fill="#bd323c"/>
<line x1="667.50" y1="340.0" x2="667.50" y2="391.7" stroke="#3d6971" stroke-width="1"/>
<rect x="666.00" y="352.0" width="3" height="16.8" fill="#17808e"/>
<line x1="671.50" y1="337.1" x2="671.50" y2="373.1" stroke="#84434a" stroke-width="1"/>
<rect x="670.00" y="352.4" width="3" height="9.8" fill="#bd323c"/>
<line x1="675.50" y1="351.3" x2="675.50" y2="374.2" stroke="#84434a" stroke-width="1"/>
<rect x="674.00" y="362.2" width="3" height="8.1" fill="#bd323c"/>
<line x1="679.50" y1="359.0" x2="679.50" y2="373.1" stroke="#3d6971" stroke-width="1"/>
<rect x="678.00" y="361.8" width="3" height="9.2" fill="#17808e"/>
<line x1="683.50" y1="359.0" x2="683.50" y2="369.9" stroke="#84434a" stroke-width="1"/>
<rect x="682.00" y="361.8" width="3" height="7.0" fill="#bd323c"/>
<line x1="687.50" y1="341.5" x2="687.50" y2="371.0" stroke="#3d6971" stroke-width="1"/>
<rect x="686.00" y="356.3" width="3" height="12.5" fill="#17808e"/>
<line x1="691.50" y1="343.2" x2="691.50" y2="357.2" stroke="#3d6971" stroke-width="1"/>
<rect x="690.00" y="344.8" width="3" height="11.5" fill="#17808e"/>
<line x1="695.50" y1="327.3" x2="695.50" y2="363.3" stroke="#3d6971" stroke-width="1"/>
<rect x="694.00" y="332.8" width="3" height="12.6" fill="#17808e"/>
<line x1="700.50" y1="325.1" x2="700.50" y2="353.5" stroke="#84434a" stroke-width="1"/>
<rect x="699.00" y="332.8" width="3" height="16.3" fill="#bd323c"/>
<line x1="704.50" y1="342.6" x2="704.50" y2="354.6" stroke="#3d6971" stroke-width="1"/>
<rect x="703.00" y="345.4" width="3" height="5.3" fill="#17808e"/>
<line x1="708.50" y1="338.2" x2="708.50" y2="348.0" stroke="#3d6971" stroke-width="1"/>
<rect x="707.00" y="343.7" width="3" height="1.8" fill="#17808e"/>
<line x1="712.50" y1="319.7" x2="712.50" y2="346.8" stroke="#3d6971" stroke-width="1"/>
<rect x="711.00" y="320.2" width="3" height="24.6" fill="#17808e"/>
<line x1="716.50" y1="300.4" x2="716.50" y2="332.3" stroke="#3d6971" stroke-width="1"/>
<rect x="715.00" y="301.3" width="3" height="20.0" fill="#17808e"/>
<line x1="720.50" y1="267.3" x2="720.50" y2="305.2" stroke="#3d6971" stroke-width="1"/>
<rect x="719.00" y="268.0" width="3" height="33.6" fill="#17808e"/>
<line x1="724.50" y1="266.8" x2="724.50" y2="280.0" stroke="#84434a" stroke-width="1"/>
<rect x="723.00" y="268.0" width="3" height="8.0" fill="#bd323c"/>
<line x1="728.50" y1="274.0" x2="728.50" y2="289.6" stroke="#84434a" stroke-width="1"/>
<rect x="727.00" y="275.2" width="3" height="10.8" fill="#bd323c"/>
<line x1="732.50" y1="281.2" x2="732.50" y2="288.4" stroke="#84434a" stroke-width="1"/>
<rect x="731.00" y="283.6" width="3" height="1.9" fill="#bd323c"/>
<line x1="736.50" y1="273.5" x2="736.50" y2="296.8" stroke="#3d6971" stroke-width="1"/>
<rect x="735.00" y="282.4" width="3" height="7.9" fill="#17808e"/>
<line x1="740.50" y1="255.3" x2="740.50" y2="296.8" stroke="#3d6971" stroke-width="1"/>
<rect x="739.00" y="280.7" width="3" height="9.6" fill="#17808e"/>
<line x1="745.50" y1="278.3" x2="745.50" y2="315.3" stroke="#84434a" stroke-width="1"/>
<rect x="744.00" y="280.0" width="3" height="32.4" fill="#bd323c"/>
<line x1="749.50" y1="310.0" x2="749.50" y2="317.2" stroke="#3d6971" stroke-width="1"/>
<rect x="748.00" y="312.0" width="3" height="1.9" fill="#17808e"/>
<line x1="753.50" y1="300.4" x2="753.50" y2="315.3" stroke="#3d6971" stroke-width="1"/>
<rect x="752.00" y="312.9" width="3" height="1.5" fill="#17808e"/>
<line x1="757.50" y1="305.2" x2="757.50" y2="313.6" stroke="#84434a" stroke-width="1"/>
<rect x="756.00" y="307.6" width="3" height="5.3" fill="#bd323c"/>
<line x1="761.50" y1="304.8" x2="761.50" y2="324.4" stroke="#84434a" stroke-width="1"/>
<rect x="760.00" y="307.6" width="3" height="14.4" fill="#bd323c"/>
<line x1="765.50" y1="289.6" x2="765.50" y2="322.5" stroke="#3d6971" stroke-width="1"/>
<rect x="764.00" y="308.1" width="3" height="13.9" fill="#17808e"/>
<line x1="769.50" y1="307.6" x2="769.50" y2="345.6" stroke="#84434a" stroke-width="1"/>
<rect x="768.00" y="308.1" width="3" height="36.8" fill="#bd323c"/>
<line x1="773.50" y1="340.8" x2="773.50" y2="349.7" stroke="#84434a" stroke-width="1"/>
<rect x="772.00" y="343.2" width="3" height="1.7" fill="#bd323c"/>
<line x1="777.50" y1="337.0" x2="777.50" y2="344.1" stroke="#84434a" stroke-width="1"/>
<rect x="776.00" y="340.0" width="3" height="2.0" fill="#bd323c"/>
<line x1="781.50" y1="334.0" x2="781.50" y2="345.6" stroke="#84434a" stroke-width="1"/>
<rect x="780.00" y="342.5" width="3" height="1.9" fill="#bd323c"/>
<line x1="785.50" y1="342.5" x2="785.50" y2="350.4" stroke="#3d6971" stroke-width="1"/>
<rect x="784.00" y="343.7" width="3" height="1.9" fill="#17808e"/>
<line x1="790.50" y1="312.0" x2="790.50" y2="346.5" stroke="#3d6971" stroke-width="1"/>
<rect x="789.00" y="316.0" width="3" height="29.6" fill="#17808e"/>
<line x1="794.50" y1="314.4" x2="794.50" y2="335.3" stroke="#84434a" stroke-width="1"/>
<rect x="793.00" y="315.3" width="3" height="18.7" fill="#bd323c"/>
<line x1="798.50" y1="325.6" x2="798.50" y2="333.6" stroke="#3d6971" stroke-width="1"/>
<rect x="797.00" y="326.8" width="3" height="6.1" fill="#17808e"/>
<line x1="272.1" y1="183.9" x2="493.1" y2="182.9" stroke="rgba(70,170,184,0.58)" stroke-width="5.6" stroke-linecap="round"/>
<line x1="474.6" y1="260" x2="781.6" y2="258.4" stroke="rgba(70,170,184,0.58)" stroke-width="5.7" stroke-linecap="round"/>
<line x1="623.6" y1="350.5" x2="813.1" y2="349.1" stroke="rgba(70,170,184,0.58)" stroke-width="5.3" stroke-linecap="round"/>
<line x1="648.2" y1="388.2" x2="679.4" y2="388.2" stroke="rgba(70,170,184,0.58)" stroke-width="7" stroke-linecap="round"/>
<line x1="726.5" y1="295" x2="772.3" y2="295" stroke="rgba(70,170,184,0.58)" stroke-width="7" stroke-linecap="round"/>
<path d="M814.5 319.4 L821.2 326.6 L818 326.6 L818 341.8 Q818 342.9 816.9 342.9 L812.1 342.9 Q811 342.9 811 341.8 L811 326.6 L807.9 326.6 Z" fill="#1fb84a" stroke="#1fb84a" stroke-width="0.6" stroke-linejoin="round"/>
<path d="M811.8 355.4 L817 355.4 L817 365.8 L821 365.8 L814.5 373.2 L808 365.8 L811.8 365.8 Z" fill="#ee1217"/>
<line x1="0" y1="443" x2="878.4" y2="443" stroke="#c0c0c0" stroke-width="1.8"/>
<line x1="877.65" y1="44" x2="877.65" y2="443.9" stroke="#bcbcbc" stroke-width="1.5"/>
<line x1="47.7" y1="442" x2="47.7" y2="445.6" stroke="#999" stroke-width="0.8"/>
<line x1="123.7" y1="442" x2="123.7" y2="445.6" stroke="#999" stroke-width="0.8"/>
<line x1="176.3" y1="442" x2="176.3" y2="445.6" stroke="#999" stroke-width="0.8"/>
<line x1="225.7" y1="442" x2="225.7" y2="445.6" stroke="#999" stroke-width="0.8"/>
<line x1="269" y1="442" x2="269" y2="445.6" stroke="#999" stroke-width="0.8"/>
<line x1="328" y1="442" x2="328" y2="445.6" stroke="#999" stroke-width="0.8"/>
<line x1="376.7" y1="442" x2="376.7" y2="445.6" stroke="#999" stroke-width="0.8"/>
<line x1="430" y1="442" x2="430" y2="445.6" stroke="#999" stroke-width="0.8"/>
<line x1="479.7" y1="442" x2="479.7" y2="445.6" stroke="#999" stroke-width="0.8"/>
<line x1="522" y1="442" x2="522" y2="445.6" stroke="#999" stroke-width="0.8"/>
<line x1="555" y1="442" x2="555" y2="445.6" stroke="#999" stroke-width="0.8"/>
<line x1="630.3" y1="442" x2="630.3" y2="445.6" stroke="#999" stroke-width="0.8"/>
<line x1="684" y1="442" x2="684" y2="445.6" stroke="#999" stroke-width="0.8"/>
<line x1="732" y1="442" x2="732" y2="445.6" stroke="#999" stroke-width="0.8"/>
<line x1="775.3" y1="442" x2="775.3" y2="445.6" stroke="#999" stroke-width="0.8"/>
<line x1="830.7" y1="442" x2="830.7" y2="445.6" stroke="#999" stroke-width="0.8"/>
<line x1="878" y1="50.0" x2="880" y2="50.0" stroke="#999" stroke-width="0.8"/>
<text x="882" y="52.0" class="ax">1.16</text>
<line x1="878" y1="93.1" x2="880" y2="93.1" stroke="#999" stroke-width="0.8"/>
<text x="882" y="95.1" class="ax">1.15</text>
<line x1="878" y1="136.1" x2="880" y2="136.1" stroke="#999" stroke-width="0.8"/>
<text x="882" y="138.1" class="ax">1.14</text>
<line x1="878" y1="179.2" x2="880" y2="179.2" stroke="#999" stroke-width="0.8"/>
<text x="882" y="181.2" class="ax">1.13</text>
<line x1="878" y1="222.2" x2="880" y2="222.2" stroke="#999" stroke-width="0.8"/>
<text x="882" y="224.2" class="ax">1.12</text>
<line x1="878" y1="265.3" x2="880" y2="265.3" stroke="#999" stroke-width="0.8"/>
<text x="882" y="267.3" class="ax">1.11</text>
<line x1="878" y1="308.4" x2="880" y2="308.4" stroke="#999" stroke-width="0.8"/>
<text x="882" y="310.4" class="ax">1.1</text>
<line x1="878" y1="351.4" x2="880" y2="351.4" stroke="#999" stroke-width="0.8"/>
<text x="882" y="353.4" class="ax">1.09</text>
<line x1="878" y1="394.5" x2="880" y2="394.5" stroke="#999" stroke-width="0.8"/>
<text x="882" y="396.5" class="ax">1.08</text>
<line x1="878" y1="437.5" x2="880" y2="437.5" stroke="#999" stroke-width="0.8"/>
<text x="882" y="439.5" class="ax">1.07</text>
<text x="47.7" y="452.6" text-anchor="middle" class="axb">Feb</text>
<text x="123.7" y="452.6" text-anchor="middle" class="axb">4</text>
<text x="176.3" y="452.6" text-anchor="middle" class="axb">8</text>
<text x="225.7" y="452.6" text-anchor="middle" class="axb">10</text>
<text x="269" y="452.6" text-anchor="middle" class="axb">12</text>
<text x="328" y="452.6" text-anchor="middle" class="axb">16</text>
<text x="376.7" y="452.6" text-anchor="middle" class="axb">18</text>
<text x="430" y="452.6" text-anchor="middle" class="axb">22</text>
<text x="479.7" y="452.6" text-anchor="middle" class="axb">24</text>
<text x="522" y="452.6" text-anchor="middle" class="axb">26</text>
<text x="555" y="452.6" text-anchor="middle" class="axb">Mar</text>
<text x="630.3" y="452.6" text-anchor="middle" class="axb">4</text>
<text x="684" y="452.6" text-anchor="middle" class="axb">8</text>
<text x="732" y="452.6" text-anchor="middle" class="axb">10</text>
<text x="775.3" y="452.6" text-anchor="middle" class="axb">12</text>
<text x="830.7" y="452.6" text-anchor="middle" class="axb">16</text>
<text x="-2.5" y="452.6" text-anchor="middle" class="axb">28</text>
<path d="M879 212.1 L884.4 207.6 L909.6 207.6 Q910.6 207.6 910.6 208.6 L910.6 215.6 Q910.6 216.6 909.6 216.6 L884.4 216.6 Z" fill="#f43b36"/><text x="887.4" y="214.15" class="tg" fill="#3a1010">1.12236</text>
<path d="M879 320.2 L884.4 316.2 L909.6 316.2 Q910.6 316.2 910.6 317.2 L910.6 323.2 Q910.6 324.2 909.6 324.2 L884.4 324.2 Z" fill="#2fbf4d"/><text x="887.4" y="322.25" class="tg" fill="#103a18">1.09712</text>
<path d="M879 328 L884.4 323.8 L909.6 323.8 Q910.6 323.8 910.6 324.8 L910.6 331.2 Q910.6 332.2 909.6 332.2 L884.4 332.2 Z" fill="#5b57a6"/><text x="887.4" y="330.05" class="tg" fill="#ffffff">1.09547</text>
<text x="5" y="408.7" class="lg" font-weight="bold" fill="#333">MA</text>
<text x="17.1" y="408.7" class="lg" fill="#8db7d2">20</text>
<text x="26" y="408.7" class="lg" fill="#7fca7f">50</text>
<text x="35" y="408.7" class="lg" fill="#e08585">200</text>
<g transform="translate(52.5 406.8)" fill="#6a6a6a"><rect x="-0.65" y="-3.3" width="1.3" height="1.5" transform="rotate(0)"/><rect x="-0.65" y="-3.3" width="1.3" height="1.5" transform="rotate(45)"/><rect x="-0.65" y="-3.3" width="1.3" height="1.5" transform="rotate(90)"/><rect x="-0.65" y="-3.3" width="1.3" height="1.5" transform="rotate(135)"/><rect x="-0.65" y="-3.3" width="1.3" height="1.5" transform="rotate(180)"/><rect x="-0.65" y="-3.3" width="1.3" height="1.5" transform="rotate(225)"/><rect x="-0.65" y="-3.3" width="1.3" height="1.5" transform="rotate(270)"/><rect x="-0.65" y="-3.3" width="1.3" height="1.5" transform="rotate(315)"/><circle r="1.9" fill="none" stroke="#6a6a6a" stroke-width="1.1"/></g>
<path d="M60.4 404.6 L65.2 409.0 M65.2 404.6 L60.4 409.0" stroke="#6a6a6a" stroke-width="1.2" fill="none"/>
</svg>
</body></html>
